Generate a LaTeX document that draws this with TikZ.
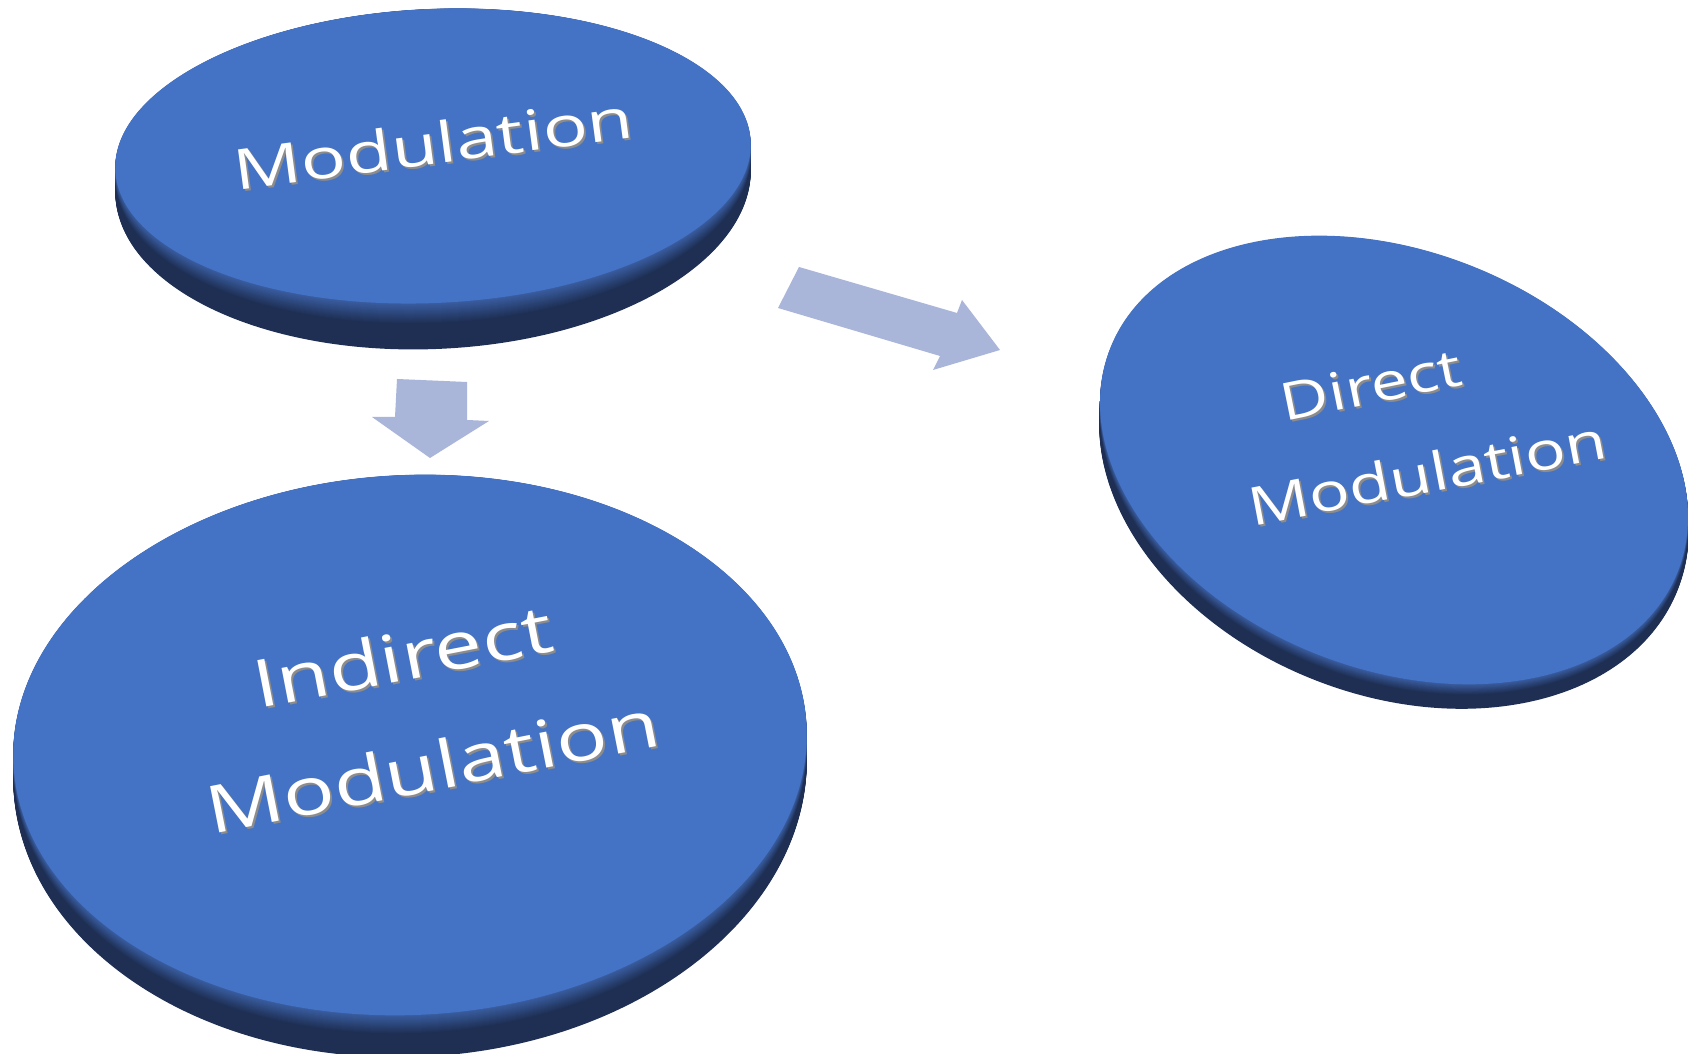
\documentclass[tikz,border=0pt]{standalone}
\usepackage{fontspec}
\setmainfont{Open Sans}
\newfontfamily\widetop[FakeStretch=1.34]{Open Sans}
\newfontfamily\wideind[FakeStretch=1.3]{Open Sans}
\newfontfamily\widedir[FakeStretch=1.28]{Open Sans}
\usetikzlibrary{shapes.geometric}
\definecolor{faceblue}{HTML}{4472C4}
\definecolor{sidelight}{HTML}{3A5EA2}
\definecolor{sidedark}{HTML}{1E2F53}
\definecolor{arrowblue}{HTML}{A9B6DA}
\definecolor{shadowgrey}{HTML}{8C8C8C}
% #1,#2 centre; #3,#4 radii; #5 angle; #6 side at the ends; #7 side at the front
\newcommand\diskside[7]{%
  \foreach \s in {#7,...,1}{%
    \pgfmathtruncatemacro\p{min(100,220*\s/#7)}%
    \pgfmathsetmacro\dy{\s*#6/#7}%
    \pgfmathsetmacro\yr{#4+\s*(#7-#6)/#7}%
    \fill[sidedark!\p!sidelight, shift={(#1,#2-\dy)}, rotate=#5] (0,0) ellipse [x radius=#3, y radius=\yr];
  }}
\begin{document}
\begin{tikzpicture}[x=0.5pt,y=0.5pt,
  face/.style={ellipse, fill=faceblue, inner sep=0pt, draw=none},
  blockarrow/.style={fill=arrowblue},
  lbl/.style={text=white, inner sep=0pt, anchor=base},
  lblshadow/.style={text=shadowgrey, inner sep=0pt, anchor=base}]
\fill[white] (0,0) rectangle (1688,1054);
\useasboundingbox (0,0) rectangle (1688,1054);

% arrows
\fill[blockarrow] (397,675) -- (467,672) -- (467,634) -- (489,633) -- (430,596) -- (372,637) -- (395,637) -- cycle;
\fill[blockarrow] (799,787) -- (957,741) -- (962,754) -- (1000,704) -- (933,684) -- (940,698) -- (778,746) -- cycle;

% top disk
\diskside{433}{898}{318}{147}{2.6}{25}{46}
\node[face, minimum width=318pt, minimum height=147pt, rotate=2.6] (top) at (433,898) {};
\node[lblshadow, font=\widetop\fontsize{28}{34}\selectfont, rotate=7.6] (t1s) at (438,888) {Modulation};
\node[lbl, font=\widetop\fontsize{28}{34}\selectfont, rotate=7.6] (t1) at (436,890) {Modulation};

% indirect disk
\diskside{410}{309}{397}{270}{2.7}{24}{42}
\node[face, minimum width=397pt, minimum height=270pt, rotate=2.7] (indirect) at (410,309) {};
\node[lblshadow, font=\wideind\fontsize{33}{40}\selectfont, rotate=11] (i1s) at (409,372) {Indirect};
\node[lbl, font=\wideind\fontsize{33}{40}\selectfont, rotate=11] (i1) at (407,374) {Indirect};
\node[lblshadow, font=\wideind\fontsize{33}{40}\selectfont, rotate=11.2] (i2s) at (439,262) {Modulation};
\node[lbl, font=\wideind\fontsize{33}{40}\selectfont, rotate=11.2] (i2) at (437,264) {Modulation};

% direct disk
\diskside{1394}{594}{305}{209}{-21.5}{18}{26}
\node[face, minimum width=305pt, minimum height=209pt, rotate=-21.5] (direct) at (1394,594) {};
\node[lblshadow, font=\widedir\fontsize{26}{32}\selectfont, rotate=11.5] (d1s) at (1377,649) {Direct};
\node[lbl, font=\widedir\fontsize{26}{32}\selectfont, rotate=11.5] (d1) at (1375,651) {Direct};
\node[lblshadow, font=\widedir\fontsize{26.5}{32}\selectfont, rotate=10.8] (d2s) at (1433,560) {Modulation};
\node[lbl, font=\widedir\fontsize{26.5}{32}\selectfont, rotate=10.8] (d2) at (1431,562) {Modulation};
\end{tikzpicture}
\end{document}
